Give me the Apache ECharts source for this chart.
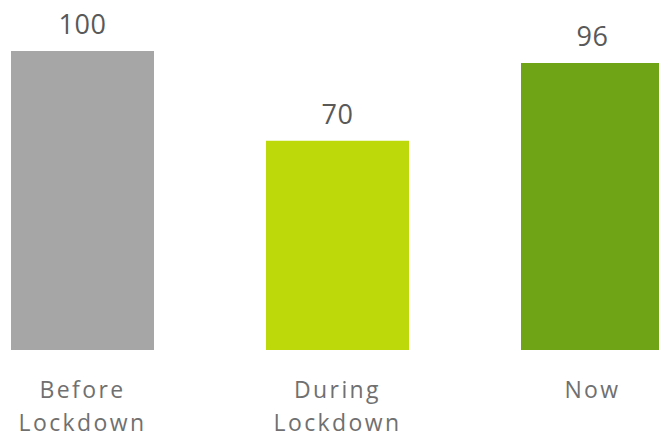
<!DOCTYPE html>
<html><head><meta charset="utf-8">
<script src="https://cdn.jsdelivr.net/npm/echarts@6/dist/echarts.min.js"></script>
<style>html,body{margin:0;padding:0;background:#fff}#c{width:659px;height:436px}
#c text.xlab{letter-spacing:2.4px}
#c text.vlab{letter-spacing:0.5px}</style>
</head><body><div id="c"></div>
<script>
const categories = ['Before\nLockdown', 'During\nLockdown', 'Now'];
const values = [100, 70, 96];
const colors = ['#A6A6A6', '#BDD909', '#6FA416'];

const chart = echarts.init(document.getElementById('c'), null, {renderer: 'svg'});
chart.setOption({
  animation: false,
  grid: {left: -45, right: -61, top: 51, bottom: 86, containLabel: false, outerBoundsMode: 'none'},
  xAxis: {
    type: 'category', data: categories,
    axisLine: {show: false}, axisTick: {show: false},
    axisLabel: {fontFamily: 'Open Sans', fontSize: 23, color: '#707070', lineHeight: 33, margin: 22, interval: 0}
  },
  yAxis: {type: 'value', min: 0, max: 100, show: false, splitLine: {show: false}},
  series: [{
    type: 'bar', barWidth: 143,
    data: values.map((v, i) => ({value: v, itemStyle: {color: colors[i]}})),
    label: {show: true, position: 'top', distance: 14, fontFamily: 'Open Sans', fontSize: 27, color: '#595959'}
  }]
});
document.querySelectorAll('#c text').forEach(t => {
  const s = t.textContent.trim();
  if (['Before', 'Lockdown', 'During', 'Now'].includes(s)) t.classList.add('xlab');
  else if (values.map(String).includes(s)) t.classList.add('vlab');
});
</script></body></html>
